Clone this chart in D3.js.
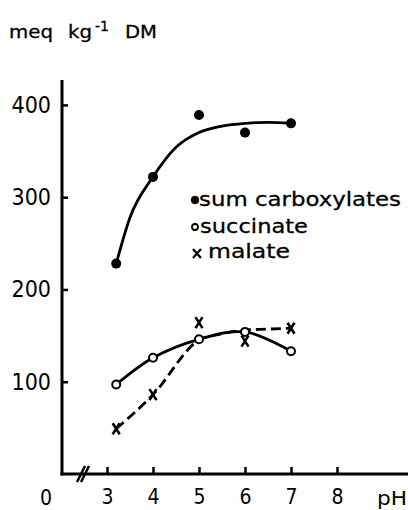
<!DOCTYPE html>
<html>
<head>
<meta charset="utf-8">
<script src="https://cdn.jsdelivr.net/npm/d3@7"></script>
<style>
  html, body { margin: 0; padding: 0; background: #fff; }
  svg { display: block; }
</style>
</head>
<body>
<svg id="chart" width="408" height="510"></svg>
<script>
// ---- data ----
const pH = [3.2, 4, 5, 6, 7];
const sumCarboxylates = [228, 322, 389, 370, 380];
const succinate = [97, 126, 146, 154, 133];
const malate = [49, 86, 164, 144, 158];
// hand-drawn fitted curves
const sumFitPH = [3.2, 3.5, 4, 4.5, 5, 5.5, 6, 6.5, 7];
const sumFit = [228, 278, 322, 354, 370, 377, 380, 381, 380];
const malateFitPH = [3.2, 4, 5, 5.5, 6, 6.5, 7];
const malateFit = [49, 86, 145, 152, 156, 157, 158];
const xTicks = [3, 4, 5, 6, 7, 8];
const yTicks = [100, 200, 300, 400];
const legendLabels = ["sum carboxylates", "succinate", "malate"];
const yUnit = ["meq", "kg", "-1", "DM"];

// ---- layout ----
const svg = d3.select("#chart");
const axisX = 62;
const x = d3.scaleLinear().domain([3, 8]).range([107, 337]);
const y = d3.scaleLinear().domain([0, 427]).range([474, 80]);
const ink = "#000";
const condensed = "'DejaVu Sans Condensed', 'DejaVu Sans', sans-serif";

// y axis
const yAxis = d3.axisLeft(y).tickValues(yTicks).tickSizeInner(-6).tickSizeOuter(0).tickPadding(11);
const gy = svg.append("g").attr("transform", `translate(${axisX},0)`).call(yAxis);
gy.select(".domain").remove();
gy.selectAll(".tick line").attr("stroke", ink).attr("stroke-width", 2.5);
gy.selectAll(".tick text")
  .attr("font-family", condensed).attr("font-stretch", "condensed")
  .attr("font-size", 23).attr("fill", ink);
svg.append("line").attr("x1", axisX).attr("x2", axisX)
  .attr("y1", y(427)).attr("y2", y(0) + 1.5)
  .attr("stroke", ink).attr("stroke-width", 3);

// x axis
const xAxis = d3.axisBottom(x).tickValues(xTicks).tickFormat(d3.format("d"))
  .tickSizeInner(-7).tickSizeOuter(0).tickPadding(15);
const gx = svg.append("g").attr("transform", `translate(0,${y(0)})`).call(xAxis);
gx.select(".domain").remove();
gx.selectAll(".tick line").attr("stroke", ink).attr("stroke-width", 2.5);
gx.selectAll(".tick text")
  .attr("font-family", condensed).attr("font-stretch", "condensed")
  .attr("font-size", 21).attr("fill", ink);
svg.append("line").attr("x1", axisX - 1.5).attr("x2", 408)
  .attr("y1", y(0)).attr("y2", y(0))
  .attr("stroke", ink).attr("stroke-width", 3);

// axis break
[0, 4].forEach(o => {
  svg.append("line")
    .attr("x1", 77 + o).attr("y1", y(0) + 8)
    .attr("x2", 85 + o).attr("y2", y(0) - 8)
    .attr("stroke", ink).attr("stroke-width", 2.5);
});

// origin "0" and pH label
svg.append("text").attr("x", 46).attr("y", 505).attr("text-anchor", "middle")
  .attr("font-family", condensed).attr("font-stretch", "condensed")
  .attr("font-size", 21).attr("fill", ink).text("0");
svg.append("text").attr("x", 377).attr("y", 505)
  .attr("font-family", "'DejaVu Sans', sans-serif")
  .attr("font-size", 19).attr("fill", ink)
  .attr("textLength", 30).attr("lengthAdjust", "spacingAndGlyphs").text("pH");

// y unit label
const unit = svg.append("text").attr("font-family", "'DejaVu Sans', sans-serif")
  .attr("font-size", 18).attr("fill", ink).attr("stroke", ink).attr("stroke-width", 0.3);
unit.append("tspan").attr("x", 9).attr("y", 38).attr("textLength", 44)
  .attr("lengthAdjust", "spacingAndGlyphs").text(yUnit[0]);
unit.append("tspan").attr("x", 68).attr("y", 38).attr("textLength", 24)
  .attr("lengthAdjust", "spacingAndGlyphs").text(yUnit[1]);
unit.append("tspan").attr("x", 95).attr("y", 31).attr("font-size", 14).text(yUnit[2]);
unit.append("tspan").attr("x", 125).attr("y", 38).attr("textLength", 32)
  .attr("lengthAdjust", "spacingAndGlyphs").text(yUnit[3]);

// ---- lines ----
const line = d3.line().x(d => x(d[0])).y(d => y(d[1]));

svg.append("path")
  .attr("d", line.curve(d3.curveMonotoneX)(sumFitPH.map((p, i) => [p, sumFit[i]])))
  .attr("fill", "none").attr("stroke", ink).attr("stroke-width", 2.8);

svg.append("path")
  .attr("d", line.curve(d3.curveCatmullRom)(pH.map((p, i) => [p, succinate[i]])))
  .attr("fill", "none").attr("stroke", ink).attr("stroke-width", 2.8);

svg.append("path")
  .attr("d", line.curve(d3.curveMonotoneX)(malateFitPH.map((p, i) => [p, malateFit[i]])))
  .attr("fill", "none").attr("stroke", ink).attr("stroke-width", 2.8)
  .attr("stroke-dasharray", "10,5");

// ---- markers ----
svg.append("g").selectAll("circle").data(pH).join("circle")
  .attr("cx", d => x(d)).attr("cy", (d, i) => y(sumCarboxylates[i]))
  .attr("r", 5).attr("fill", ink);

svg.append("g").selectAll("circle").data(pH).join("circle")
  .attr("cx", d => x(d)).attr("cy", (d, i) => y(succinate[i]))
  .attr("r", 4).attr("fill", "#fff").attr("stroke", ink).attr("stroke-width", 2);

svg.append("g").selectAll("path").data(pH).join("path")
  .attr("transform", (d, i) => `translate(${x(d)},${y(malate[i])})`)
  .attr("d", "M-3.5,-5.5L3.5,5.5M3.5,-5.5L-3.5,5.5")
  .attr("stroke", ink).attr("stroke-width", 2.6).attr("fill", "none");

// ---- legend ----
const leg = svg.append("g").attr("font-family", "'DejaVu Sans', sans-serif")
  .attr("font-size", 20).attr("fill", ink).attr("stroke", ink).attr("stroke-width", 0.3);
leg.append("circle").attr("cx", 195).attr("cy", 200).attr("r", 4).attr("fill", ink);
leg.append("text").attr("x", 199).attr("y", 206).attr("textLength", 202)
  .attr("lengthAdjust", "spacingAndGlyphs").text(legendLabels[0]);
leg.append("circle").attr("cx", 195).attr("cy", 227).attr("r", 3)
  .attr("fill", "#fff").attr("stroke", ink).attr("stroke-width", 1.8);
leg.append("text").attr("x", 200).attr("y", 233).attr("textLength", 108)
  .attr("lengthAdjust", "spacingAndGlyphs").text(legendLabels[1]);
leg.append("path").attr("d", "M193,249L201,258M201,249L193,258")
  .attr("stroke", ink).attr("stroke-width", 2.2);
leg.append("text").attr("x", 208).attr("y", 258).attr("textLength", 82)
  .attr("lengthAdjust", "spacingAndGlyphs").text(legendLabels[2]);
</script>
</body>
</html>
